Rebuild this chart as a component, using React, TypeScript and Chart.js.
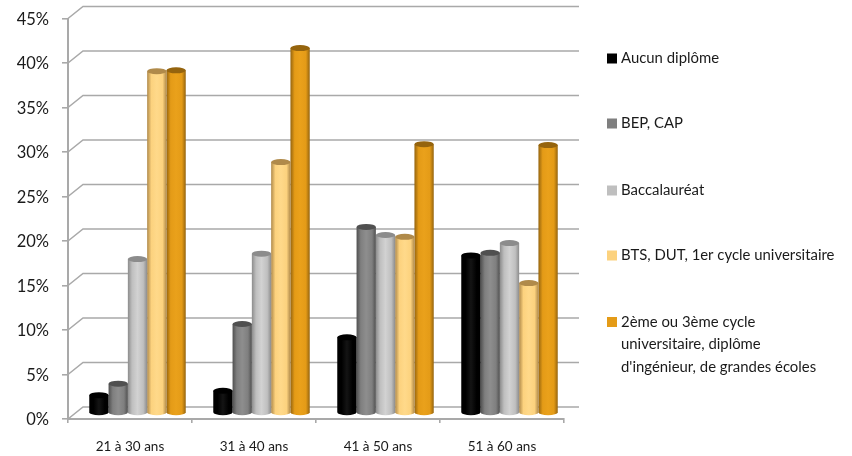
import { useEffect, useRef } from "react";
import { Chart, registerables } from "chart.js";

Chart.register(...registerables);

const categories = ["21 à 30 ans", "31 à 40 ans", "41 à 50 ans", "51 à 60 ans"];
const aucun = [2.0, 2.5, 8.5, 17.7];
const bep = [3.3, 10.0, 20.9, 18.0];
const bac = [17.3, 17.9, 20.0, 19.1];
const bts = [38.4, 28.2, 19.8, 14.6];
const sup = [38.5, 41.0, 30.2, 30.1];
const seriesLabels = [
  "Aucun diplôme",
  "BEP, CAP",
  "Baccalauréat",
  "BTS, DUT, 1er cycle universitaire",
  "2ème ou 3ème cycle|universitaire, diplôme|d'ingénieur, de grandes écoles",
];
const seriesColors = ["#000000", "#7f7f7f", "#bfbfbf", "#fcd27e", "#e49b17"];
const seriesDark = ["#000000", "#505050", "#8c8c8c", "#b08a4a", "#95640e"];
const seriesLight = ["#141414", "#8e8e8e", "#d2d2d2", "#ffd98a", "#eaa11b"];
const legendY = [58.5, 123.5, 190.5, 255.5, 322];
const DEPTH_X = 15;
const DEPTH_Y = -12;
const GRID = "#a9a9a9";

const scene = {
  id: "scene",
  beforeDatasetsDraw(chart: any) {
    const { ctx, scales } = chart;
    const y = scales.y;
    const { left, right } = chart.chartArea;
    ctx.save();
    ctx.strokeStyle = GRID;
    ctx.lineWidth = 1.6;
    y.ticks.forEach((t: any) => {
      const py = y.getPixelForValue(t.value);
      ctx.beginPath();
      ctx.moveTo(left, py);
      ctx.lineTo(left + DEPTH_X, py + DEPTH_Y);
      ctx.lineTo(right + DEPTH_X, py + DEPTH_Y);
      ctx.stroke();
    });
    ctx.restore();
  },
  beforeDatasetDraw(chart: any, args: any) {
    const { ctx } = chart;
    const i = args.index;
    const dx = DEPTH_X / 2;
    const dy = DEPTH_Y / 2;
    args.meta.data.forEach((bar: any) => {
      const w = bar.width;
      const x0 = bar.x - w / 2 + dx;
      const x1 = bar.x + w / 2 + dx;
      const top = bar.y + dy;
      const base = bar.base + dy;
      const ry = 3;
      const g = ctx.createLinearGradient(x0, 0, x1, 0);
      g.addColorStop(0, seriesDark[i]);
      g.addColorStop(0.22, seriesColors[i]);
      g.addColorStop(0.5, seriesLight[i]);
      g.addColorStop(0.8, seriesColors[i]);
      g.addColorStop(1, seriesDark[i]);
      ctx.save();
      ctx.fillStyle = g;
      ctx.beginPath();
      ctx.moveTo(x0, top);
      ctx.lineTo(x0, base);
      ctx.ellipse((x0 + x1) / 2, base, w / 2, ry, 0, Math.PI, 0, true);
      ctx.lineTo(x1, top);
      ctx.closePath();
      ctx.fill();
      ctx.fillStyle = seriesDark[i];
      ctx.beginPath();
      ctx.ellipse((x0 + x1) / 2, top, w / 2, ry, 0, 0, Math.PI * 2);
      ctx.fill();
      ctx.restore();
    });
    return false;
  },
  afterDraw(chart: any) {
    const { ctx } = chart;
    ctx.save();
    ctx.font = '14.9px Lato, "Noto Sans", sans-serif';
    ctx.textBaseline = "middle";
    ctx.textAlign = "left";
    seriesLabels.forEach((label, i) => {
      const lines = label.split("|");
      const cy = legendY[i];
      ctx.fillStyle = seriesColors[i];
      ctx.fillRect(607, cy - 5, 10, 10);
      ctx.fillStyle = "#1a1a1a";
      lines.forEach((line, k) => {
        ctx.fillText(line, 621, cy + k * 22.5);
      });
    });
    ctx.restore();
  },
};

export default function App() {
  const ref = useRef<HTMLCanvasElement>(null);
  useEffect(() => {
    document.body.style.margin = "0";
    const data = [aucun, bep, bac, bts, sup];
    const chart = new Chart(ref.current!, {
      type: "bar",
      data: {
        labels: categories,
        datasets: data.map((d, i) => ({
          label: seriesLabels[i].replace(/\|/g, " "),
          data: d,
          backgroundColor: seriesColors[i],
          categoryPercentage: 0.778,
          barPercentage: 1,
        })),
      },
      plugins: [scene],
      options: {
        animation: false,
        responsive: false,
        layout: { autoPadding: false, padding: { top: 18.5, right: 288, left: 0, bottom: 0 } },
        plugins: { legend: { display: false }, title: { display: false }, tooltip: { enabled: false } },
        scales: {
          x: {
            afterFit: (s: any) => { s.height = 37; s.paddingLeft = 0; s.paddingRight = 0; },
            grid: { drawOnChartArea: false, drawTicks: true, tickLength: 4, color: GRID, lineWidth: 1.6 },
            border: { color: GRID, width: 2 },
            ticks: { color: "#1a1a1a", padding: 16, font: { family: 'Lato, "Noto Sans", sans-serif', size: 13.5 }, maxRotation: 0 },
          },
          y: {
            min: 0,
            max: 45,
            afterFit: (s: any) => { s.width = 68; s.paddingTop = 0; s.paddingBottom = 0; },
            grid: { drawOnChartArea: false, drawTicks: true, tickLength: 6, color: GRID, lineWidth: 1.6 },
            border: { color: GRID, width: 2 },
            ticks: {
              stepSize: 5,
              color: "#1a1a1a",
              padding: 13,
              labelOffset: 1,
              font: { family: 'Lato, "Noto Sans", sans-serif', size: 16.5 },
              callback: (v: any) => v + "%",
            },
          },
        },
      },
    });
    return () => chart.destroy();
  }, []);
  return <canvas ref={ref} width={852} height={456} style={{ display: "block" }} />;
}
